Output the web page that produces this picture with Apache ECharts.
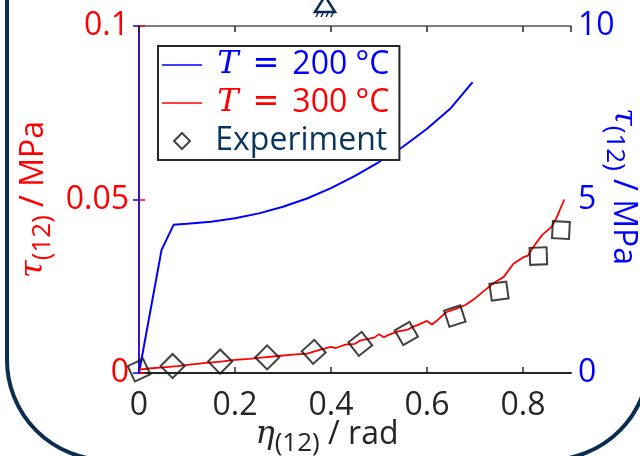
<!DOCTYPE html>
<html>
<head>
<meta charset="utf-8">
<script src="https://cdn.jsdelivr.net/npm/echarts@6/dist/echarts.min.js"></script>
<style>html,body{margin:0;padding:0;background:#fff;}#c{width:640px;height:456px;}</style>
</head>
<body>
<div id="c"></div>
<script>
// ---- data ----
const blueX = [0, 0.047, 0.072, 0.1, 0.15, 0.2, 0.25, 0.3, 0.35, 0.4, 0.45, 0.5, 0.55, 0.6, 0.65, 0.695];
const blueY = [0, 3.55, 4.27, 4.30, 4.36, 4.46, 4.60, 4.79, 5.03, 5.33, 5.68, 6.08, 6.52, 7.04, 7.64, 8.38];

const redX = [0, 0.02, 0.05, 0.08, 0.11, 0.14, 0.17, 0.2, 0.23, 0.26, 0.29, 0.32, 0.35, 0.38, 0.4, 0.41, 0.43, 0.45, 0.46, 0.47, 0.49, 0.5, 0.51, 0.52, 0.54, 0.56, 0.57, 0.58, 0.6, 0.61, 0.62, 0.64, 0.66, 0.68, 0.7, 0.72, 0.74, 0.76, 0.78, 0.8, 0.81, 0.82, 0.84, 0.86, 0.87, 0.886];
const redY = [0.0010, 0.0013, 0.0016, 0.0020, 0.0025, 0.0029, 0.0033, 0.0038, 0.0041, 0.0045, 0.0049, 0.0053, 0.0056, 0.0068, 0.0075, 0.0072, 0.0082, 0.0084, 0.0093, 0.0096, 0.0102, 0.0112, 0.0103, 0.0110, 0.0120, 0.0125, 0.0133, 0.0138, 0.0150, 0.0140, 0.0150, 0.0175, 0.0185, 0.0196, 0.0215, 0.0238, 0.0260, 0.0277, 0.0315, 0.0333, 0.0338, 0.0360, 0.0398, 0.0422, 0.0448, 0.0500];

const expX = [0.0, 0.070, 0.169, 0.267, 0.364, 0.461, 0.557, 0.658, 0.750, 0.832, 0.879];
const expY = [0.0008, 0.0020, 0.0033, 0.0045, 0.0061, 0.0084, 0.0114, 0.0164, 0.0236, 0.0337, 0.0412];

const xTicks = { min: 0, max: 0.9, interval: 0.2 };
const yLeftTicks = { min: 0, max: 0.1, interval: 0.05 };
const yRightTicks = { min: 0, max: 10, interval: 5 };

const legendNames = ['T200', 'T300', 'Experiment'];
const legendLabels = { T200: '200', T300: '300', Experiment: 'Experiment' };

// ---- styling ----
const RED = '#ff0000', BLUE = '#0000ff', DARK = '#262626', NAVY = '#0b2d52';
const FONT = 'Open Sans';
const markerRot = [25, 45, 45, 45, 42, 38, 30, 18, 8, 2, -3];
const LINE_ICON = 'path://M0,0 M40,16 M0,7.2 L40,7.2 L40,8.8 L0,8.8 Z';
const DIAMOND_ICON = 'path://M0,0 M40,16 M20,-1 L29,8 L20,17 L11,8 Z';

const chart = echarts.init(document.getElementById('c'), null, { renderer: 'canvas' });

function nameRich(color) {
  return {
    m: { fontFamily: 'DejaVu Serif', fontStyle: 'italic', fontSize: 32, lineHeight: 44, color: color, verticalAlign: 'middle' },
    s: { fontFamily: FONT, fontSize: 26, lineHeight: 28, color: color, verticalAlign: 'bottom' },
    n: { fontFamily: FONT, fontSize: 32, lineHeight: 44, color: color, verticalAlign: 'middle' }
  };
}

const option = {
  animation: false,
  backgroundColor: '#ffffff',
  grid: { left: 139, right: 69, top: 26, bottom: 83, containLabel: false, outerBoundsMode: 'none' },
  legend: {
    orient: 'vertical',
    left: 158, top: 46,
    padding: [3, 10, 3, 4],
    itemGap: 6,
    itemWidth: 40, itemHeight: 16,
    backgroundColor: '#ffffff',
    borderColor: DARK, borderWidth: 2, borderRadius: 0,
    selectedMode: false,
    data: [
      { name: 'T200', icon: LINE_ICON, itemStyle: { color: BLUE, borderWidth: 0 }, textStyle: { color: BLUE } },
      { name: 'T300', icon: LINE_ICON, itemStyle: { color: RED, borderWidth: 0 }, textStyle: { color: RED } },
      { name: 'Experiment', icon: DIAMOND_ICON, itemStyle: { color: 'rgba(0,0,0,0)', borderColor: '#111111', borderWidth: 2 }, textStyle: { color: '#08365e' } }
    ],
    formatter: function (n) {
      if (n === 'Experiment') return '{t| Experiment}';
      return '{i| T}{e|=}{t|' + legendLabels[n] + ' °C}';
    },
    textStyle: {
      fontFamily: FONT, fontSize: 32, lineHeight: 32,
      rich: {
        i: { fontFamily: 'DejaVu Serif', fontStyle: 'italic', fontSize: 32, lineHeight: 32 },
        e: { fontFamily: 'DejaVu Sans', fontSize: 32, lineHeight: 32, padding: [0, 13, 0, 14] },
        t: { fontFamily: FONT, fontSize: 32, lineHeight: 32 }
      }
    }
  },
  xAxis: [{
    type: 'value', position: 'bottom',
    min: xTicks.min, max: xTicks.max, interval: xTicks.interval,
    axisLine: { show: true, lineStyle: { color: DARK, width: 2 } },
    axisTick: { show: true, inside: true, length: 6, lineStyle: { color: DARK, width: 1.5 } },
    axisLabel: { color: DARK, fontFamily: FONT, fontSize: 32, margin: 17, showMaxLabel: false,
      formatter: v => (Math.round(v * 10) / 10).toString() },
    splitLine: { show: false },
    name: '{m|η}{s|(12)}{n| / rad}',
    nameLocation: 'middle', nameGap: 40, nameMoveOverlap: false,
    nameTextStyle: { rich: nameRich(DARK), padding: [0, 56, 0, 0] }
  }, {
    type: 'value', position: 'top',
    min: xTicks.min, max: xTicks.max, interval: xTicks.interval,
    axisLine: { show: true, onZero: false, lineStyle: { color: '#555555', width: 1.5 } },
    axisTick: { show: true, inside: true, length: 6, lineStyle: { color: DARK, width: 1.5 } },
    axisLabel: { show: false },
    splitLine: { show: false }
  }],
  yAxis: [{
    type: 'value', position: 'left',
    min: yLeftTicks.min, max: yLeftTicks.max, interval: yLeftTicks.interval,
    axisLine: { show: true, lineStyle: { color: RED, width: 1.5 } },
    axisTick: { show: true, inside: true, length: 6, lineStyle: { color: RED, width: 1.5 } },
    axisLabel: { color: RED, fontFamily: FONT, fontSize: 32, margin: 10 },
    splitLine: { show: false },
    name: '{m|τ}{s|(12)}{n| / MPa}',
    nameLocation: 'middle', nameGap: 83, nameRotate: 90, nameMoveOverlap: false,
    nameTextStyle: { rich: nameRich(RED) }
  }, {
    type: 'value', position: 'right',
    min: yRightTicks.min, max: yRightTicks.max, interval: yRightTicks.interval,
    axisLine: { show: true, lineStyle: { color: BLUE, width: 1.5 } },
    axisTick: { show: true, inside: true, length: 6, lineStyle: { color: BLUE, width: 1.5 } },
    axisLabel: { color: BLUE, fontFamily: FONT, fontSize: 32, margin: 7 },
    splitLine: { show: false },
    name: '{m|τ}{s|(12)}{n| / MPa}',
    nameLocation: 'middle', nameGap: 30, nameRotate: -90, nameMoveOverlap: false,
    nameTextStyle: { rich: nameRich(BLUE), padding: [0, 26, 0, 0] }
  }],
  graphic: [
    { type: 'rect', z: -10, silent: true,
      shape: { x: 7, y: -150, width: 642, height: 610, r: 100 },
      style: { fill: 'none', stroke: NAVY, lineWidth: 4 } },
    { type: 'polygon', z: 100, silent: true,
      shape: { points: [[315, 12], [325, -4], [335, 12]] },
      style: { fill: '#ffffff', stroke: NAVY, lineWidth: 2.5 } },
    { type: 'group', z: 100, silent: true, children: [0, 1, 2, 3].map(k => ({
      type: 'line', shape: { x1: 318 + k * 5, y1: 13, x2: 316 + k * 5, y2: 17 },
      style: { stroke: NAVY, lineWidth: 1.5 } })) }
  ],
  series: [{
    name: 'T200', type: 'line', xAxisIndex: 0, yAxisIndex: 1,
    data: blueX.map((x, i) => [x, blueY[i]]),
    symbol: 'none', showSymbol: false,
    lineStyle: { color: BLUE, width: 2 }, itemStyle: { color: BLUE }, z: 3
  }, {
    name: 'T300', type: 'line', xAxisIndex: 0, yAxisIndex: 0,
    data: redX.map((x, i) => [x, redY[i]]),
    symbol: 'none', showSymbol: false,
    lineStyle: { color: RED, width: 1.8 }, itemStyle: { color: RED }, z: 3
  }, {
    name: 'Experiment', type: 'scatter', xAxisIndex: 0, yAxisIndex: 0,
    data: expX.map((x, i) => ({ value: [x, expY[i]], symbolRotate: markerRot[i] })),
    symbol: 'rect', symbolSize: 17, clip: false,
    itemStyle: { color: 'rgba(0,0,0,0)', borderColor: '#111111', borderWidth: 2 }, z: 4
  }]
};
chart.setOption(option);
</script>
</body>
</html>
